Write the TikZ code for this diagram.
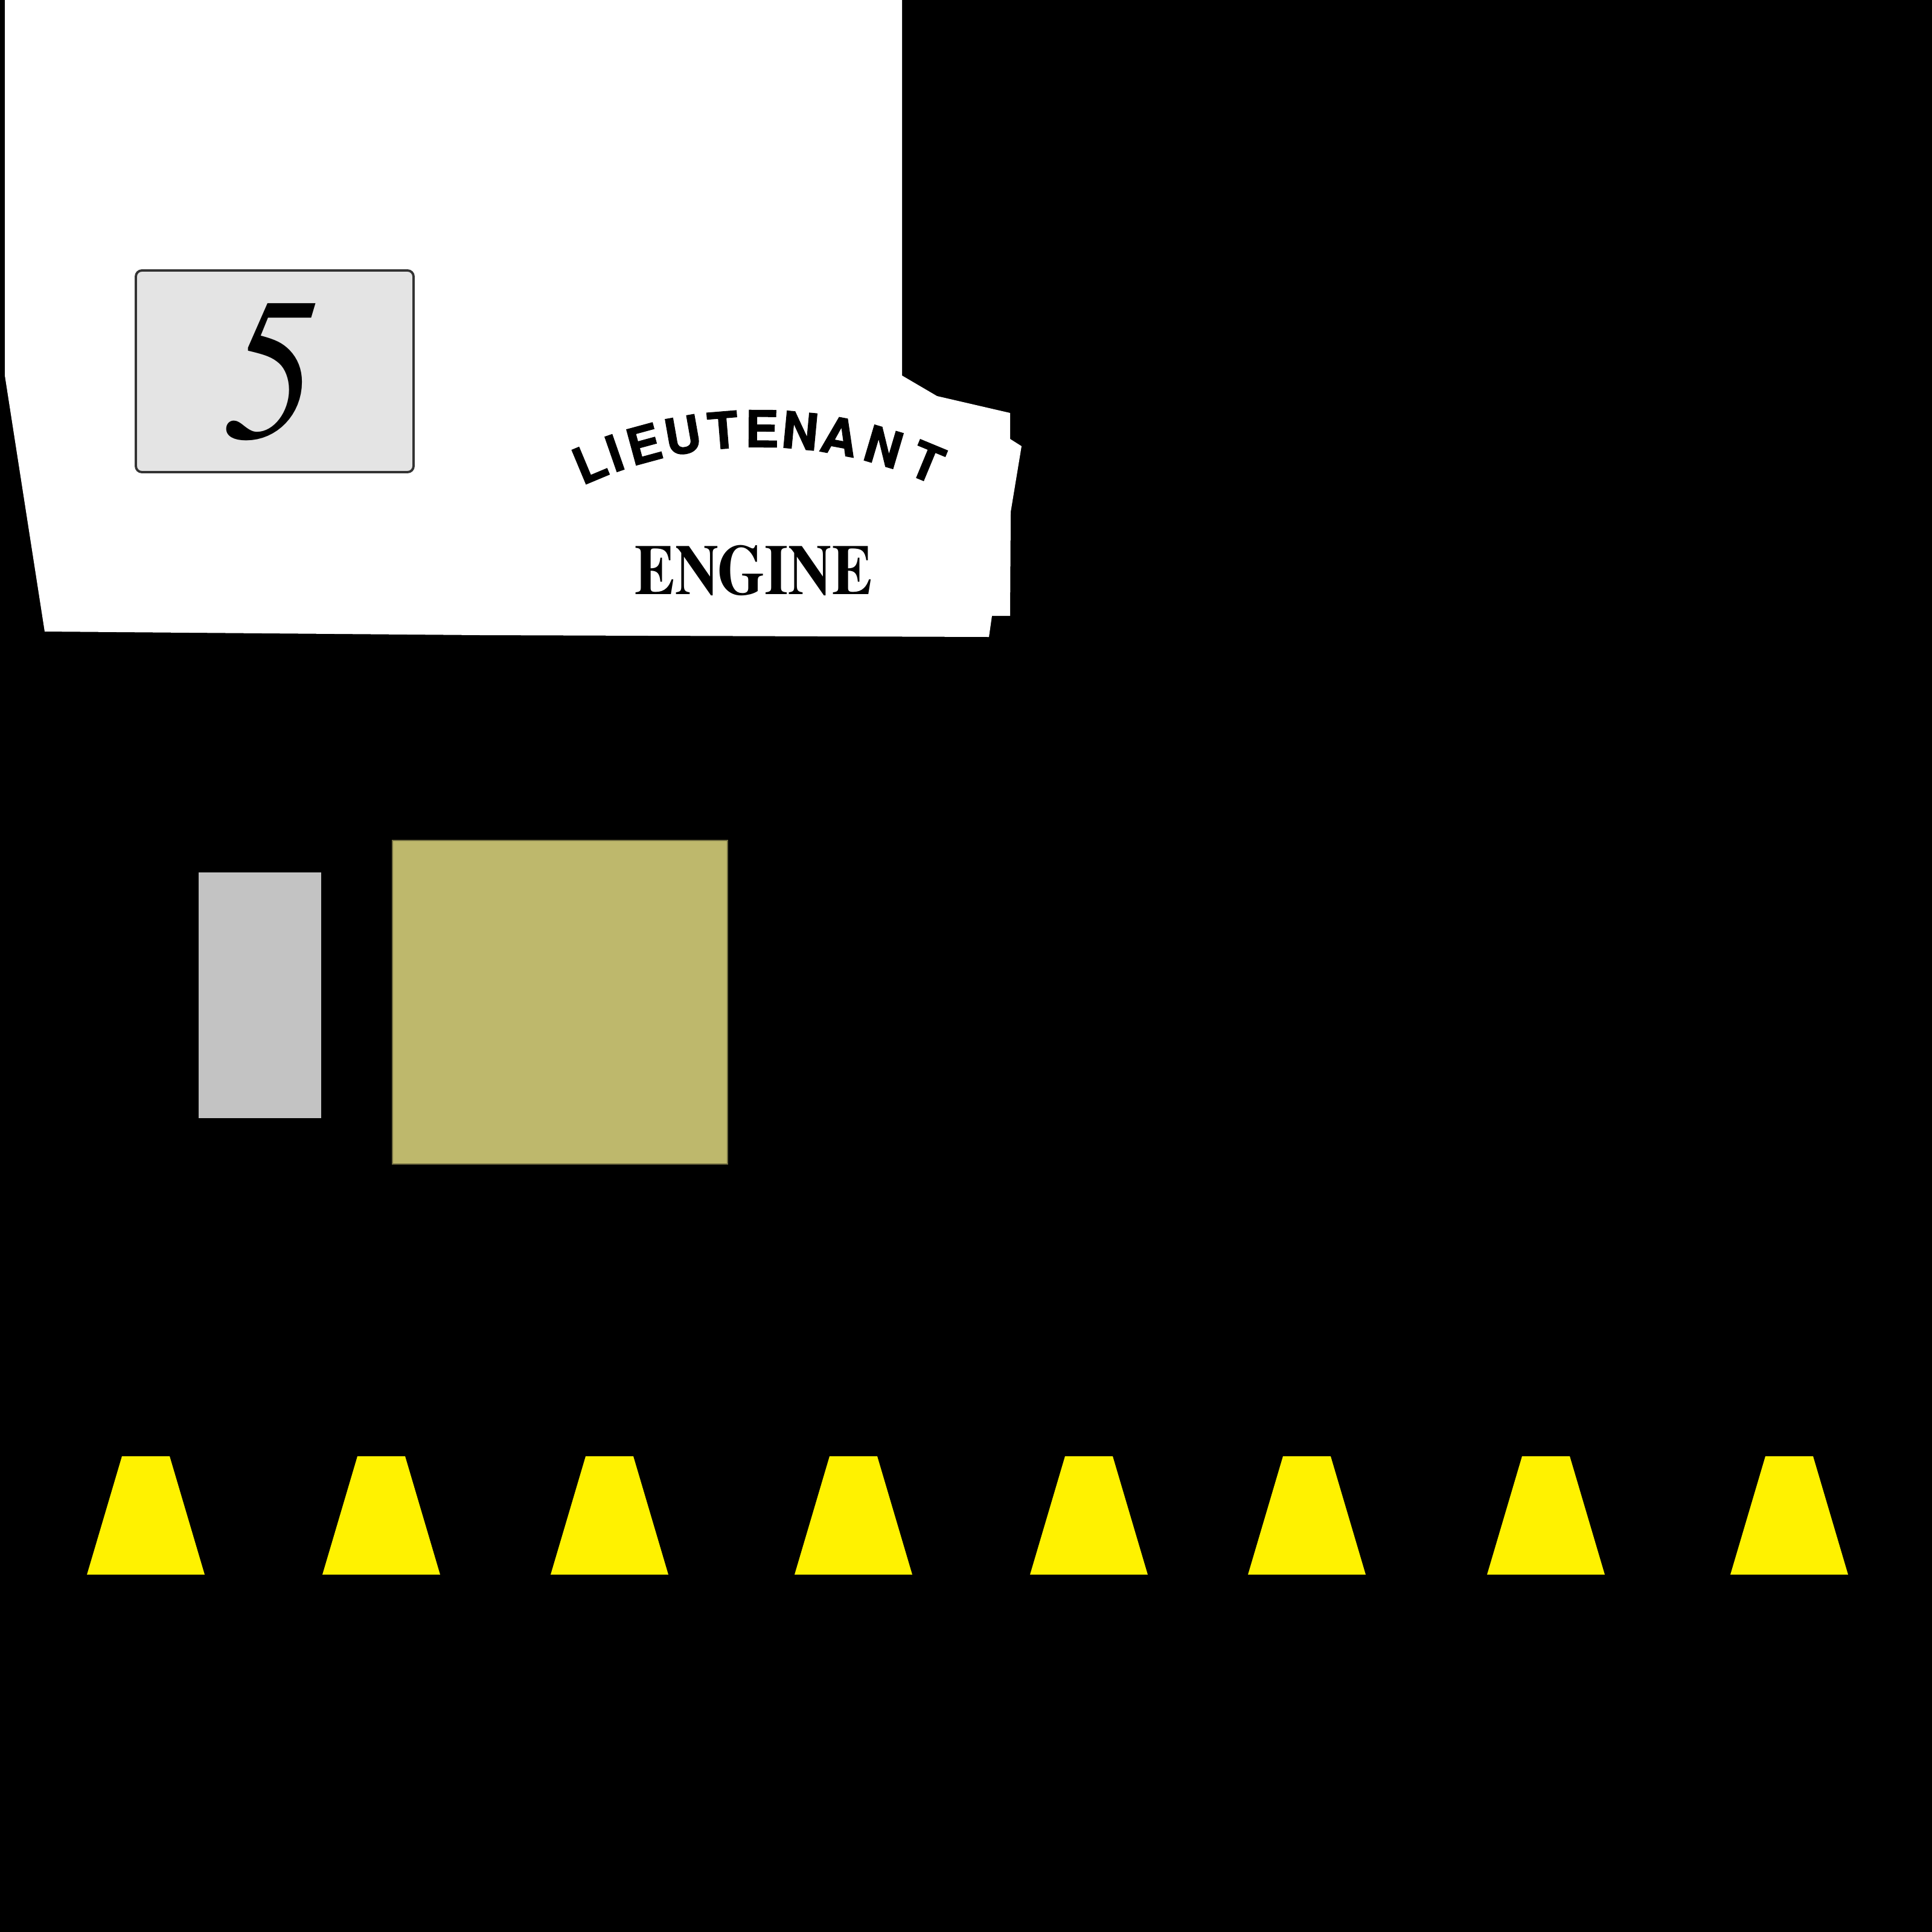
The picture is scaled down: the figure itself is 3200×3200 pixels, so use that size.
\documentclass[tikz,border=0pt]{standalone}
\usepackage{fontspec}
\usepackage{tikz}
\newfontfamily\serifbold{texgyretermes-bold.otf}
\newfontfamily\serifitalic{texgyretermes-italic.otf}
\newfontfamily\sansbold{texgyreheros-bold.otf}[FakeBold=1.6]
\definecolor{plategrey}{HTML}{E4E4E4}
\definecolor{plateedge}{HTML}{333333}
\definecolor{sidegrey}{HTML}{C3C3C3}
\definecolor{khaki}{HTML}{BEB86C}
\usetikzlibrary{positioning}

\begin{document}
\begin{tikzpicture}[x=0.01cm, y=-0.01cm,
    cone/.style={fill=yellow},
    arcletter/.style={inner sep=0pt, font=\sansbold\fontsize{23.8}{24}\selectfont}]
    \useasboundingbox (0,0) rectangle (3200,3200);
    \fill[black] (0,0) rectangle (3200,3200);
    % white card
    \fill[white] (8,0) -- (1494,0) -- (1494,622) -- (1552,656) -- (1673,684) -- (1673,727)
        -- (1692,739) -- (1674,848) -- (1673,1020) -- (1643,1020) -- (1638,1055)
        -- (796,1052) -- (74,1046) -- (8,622) -- cycle;
    % number plate
    \draw[fill=plategrey, draw=plateedge, line width=1.1pt, rounded corners=0.1cm] (225,448) rectangle (685,782);
    \node[inner sep=0pt, anchor=base, xscale=0.92, font=\serifitalic\fontsize{96}{96}\selectfont] (num) at (448,727) {5};
    % curved title
    \foreach \ch/\a [count=\i] in {L/-22.7, I/-19.2, E/-15.2, U/-10.0, T/-4.7, E/0.4, N/5.4, A/10.6, N/16.5, T/22.5}
        \node[arcletter, rotate=-\a] (lt\i) at ({1257+727*sin(\a)}, {1437-727*cos(\a)}) {\ch};
    \node[inner sep=0pt, anchor=base, xscale=0.85, font=\serifbold\fontsize{33.5}{34}\selectfont] (engine) at (1248,984) {ENGINE};
    % blocks
    \fill[sidegrey] (329,1445) rectangle (532,1852);
    \draw[fill=khaki, draw=khaki!60!black, line width=0.3pt] (650,1392) rectangle (1205,1928);
    % cones
    \foreach \bx in {144,534,912,1316,1706,2067,2463,2866}
        \fill[cone] (\bx,2608) -- ++(195,0) -- ++(-58,-196) -- ++(-79,0) -- cycle;
\end{tikzpicture}
\end{document}
